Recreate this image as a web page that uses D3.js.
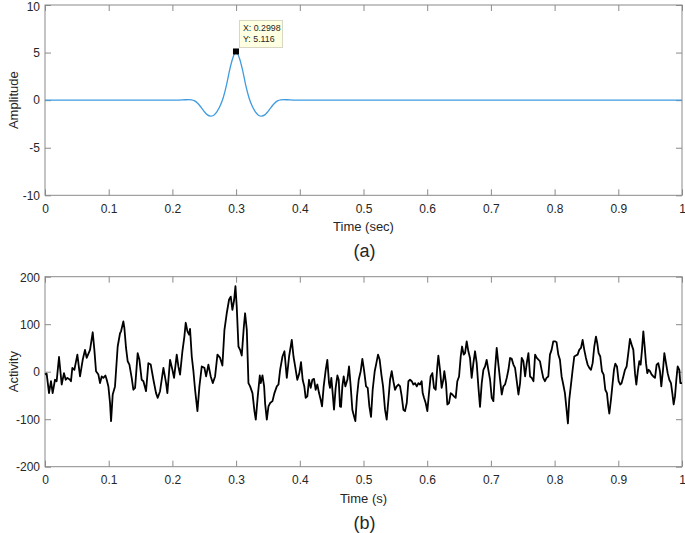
<!DOCTYPE html>
<html>
<head>
<meta charset="utf-8">
<script src="https://cdn.jsdelivr.net/npm/d3@7"></script>
<style>
  html, body { margin: 0; padding: 0; background: #fff; }
  svg { display: block; }
  text { font-family: "Liberation Sans", Arial, Helvetica, sans-serif; fill: #262626; }
</style>
</head>
<body>
<svg id="chart" width="685" height="533"></svg>
<script>
// ---------- DATA ----------
const xTicks = [0, 0.1, 0.2, 0.3, 0.4, 0.5, 0.6, 0.7, 0.8, 0.9, 1];
const xTickLabels = ["0", "0.1", "0.2", "0.3", "0.4", "0.5", "0.6", "0.7", "0.8", "0.9", "1"];
const ampTicks = [-10, -5, 0, 5, 10];
const actTicks = [-200, -100, 0, 100, 200];

// (a) wavelet
const waveTime = [0, 0.2, 0.21, 0.22, 0.225, 0.23, 0.235, 0.24, 0.245, 0.25, 0.255, 0.26, 0.265, 0.27, 0.275, 0.28, 0.285, 0.29, 0.295, 0.2998,
  0.305, 0.31, 0.315, 0.32, 0.325, 0.33, 0.335, 0.34, 0.345, 0.35, 0.355, 0.36, 0.365, 0.37, 0.375, 0.38, 0.39, 0.4, 1];
const waveAmp = [0, 0, 0.01, 0.04, 0.05, 0.03, -0.08, -0.35, -0.75, -1.2, -1.55, -1.68, -1.58, -1.2, -0.6, 0.3, 1.6, 3.2, 4.45, 5.116,
  4.45, 3.2, 1.6, 0.3, -0.6, -1.2, -1.58, -1.68, -1.55, -1.2, -0.75, -0.35, -0.08, 0.03, 0.05, 0.04, 0.01, 0, 0];
const tipX = 0.2998, tipY = 5.116;
const tipLabels = ["X: 0.2998", "Y: 5.116"];

// (b) activity
const actTime = [
  0.000,0.0026,0.0063,0.0094,0.0120,0.0157,0.0183,0.0220,0.0262,0.0298,0.0325,0.0351,0.0393,0.0408,0.0429,0.0461,0.0508,0.0550,0.0592,0.0628,0.0654,0.0707,0.0749,0.0775,0.0801,0.0838,0.0864,0.0890,0.0916,0.0948,0.0969,0.0995,0.1021,0.1037,0.1063,0.1099,0.1141,0.1178,0.1194,0.1230,0.1246,0.1272,0.1298,0.1325,0.1361,0.1387,0.1414,0.1455,0.1482,0.1518,0.1545,0.1586,0.1623,0.1660,0.1702,0.1743,0.1770,0.1806,0.1859,0.1901,0.1921,0.1963,
  0.2000,0.2026,0.2068,0.2094,0.2120,0.2157,0.2188,0.2209,0.2236,0.2262,0.2277,0.2304,0.2330,0.2356,0.2393,0.2424,0.2461,0.2503,0.2529,0.2565,0.2602,0.2634,0.2670,0.2707,0.2749,0.2785,0.2817,0.2853,0.2890,0.2916,0.2942,0.2969,0.2990,0.3010,0.3037,0.3063,0.3089,0.3120,0.3141,0.3168,0.3194,0.3220,0.3257,0.3288,0.3309,0.3340,0.3372,0.3387,0.3414,0.3440,0.3455,0.3482,0.3508,0.3534,0.3571,0.3602,0.3639,0.3665,0.3691,0.3728,0.3759,0.3796,0.3832,0.3874,0.3901,0.3927,
  0.3961,0.3993,0.4019,0.4045,0.4071,0.4092,0.4118,0.4145,0.4171,0.4197,0.4223,0.4249,0.4275,0.4302,0.4328,0.4349,0.4375,0.4407,0.4432,0.4459,0.4474,0.4495,0.4516,0.4537,0.4563,0.4590,0.4611,0.4631,0.4647,0.4668,0.4689,0.4715,0.4747,0.4773,0.4799,0.4825,0.4851,0.4872,0.4898,0.4925,0.4956,0.4982,0.5008,0.5040,0.5066,0.5092,0.5118,0.5144,0.5176,0.5202,0.5228,0.5254,0.5281,0.5307,0.5338,0.5364,0.5391,0.5417,0.5443,0.5469,0.5495,0.5521,0.5548,0.5574,0.5600,0.5626,0.5652,0.5679,0.5705,0.5731,0.5757,0.5783,0.5809,0.5836,0.5862,0.5888,
  0.5913,0.5929,0.5950,0.5976,0.6002,0.6028,0.6054,0.6081,0.6107,0.6133,0.6159,0.6175,0.6201,0.6227,0.6253,0.6269,0.6295,0.6316,0.6342,0.6369,0.6395,0.6421,0.6447,0.6473,0.6500,0.6526,0.6547,0.6573,0.6594,0.6620,0.6646,0.6672,0.6698,0.6725,0.6751,0.6777,0.6803,0.6829,0.6856,0.6882,0.6908,0.6934,0.6960,0.6987,0.7013,0.7039,0.7065,0.7091,0.7118,0.7144,0.7170,0.7196,0.7222,0.7249,0.7275,0.7301,0.7327,0.7353,0.7379,0.7406,0.7432,0.7458,0.7484,0.7510,0.7537,0.7563,0.7589,0.7615,0.7641,0.7668,0.7694,0.7720,
  0.7770,0.7796,0.7822,0.7848,0.7874,0.7901,0.7927,0.7953,0.7979,0.8005,0.8031,0.8058,0.8084,0.8110,0.8136,0.8162,0.8188,0.8209,0.8230,0.8257,0.8283,0.8309,0.8335,0.8361,0.8387,0.8414,0.8440,0.8466,0.8492,0.8518,0.8545,0.8571,0.8597,0.8623,0.8649,0.8670,0.8691,0.8717,0.8743,0.8770,0.8796,0.8822,0.8843,0.8859,0.8885,0.8911,0.8932,0.8953,0.8979,0.9005,0.9031,0.9052,0.9079,0.9105,0.9131,0.9157,0.9183,0.9209,0.9236,0.9262,0.9283,0.9309,0.9330,0.9351,0.9372,0.9393,0.9414,0.9435,0.9455,0.9476,0.9497,0.9524,0.9550,0.9576,0.9602,0.9628,0.9654,0.9675,0.9702,0.9723,0.9749,0.9775,0.9801,0.9827,0.9848,0.9869,0.9890,0.9911,0.9932,0.9958,0.9974,1.0
];
const actValue = [
  -6,-4,-45,-20,-45,-17,-20,31,-27,-3,-17,-13,-17,-20,8,4,36,-10,25,46,29,46,83,46,1,-6,-24,-10,-13,-8,-17,-31,-66,-104,-48,-31,53,81,85,106,92,50,22,15,-13,-38,-34,39,25,-17,-20,-41,18,15,-17,-45,-55,-41,8,-24,-45,25,
  4,-13,36,11,-6,43,74,103,85,78,90,32,1,-38,-83,-31,11,8,-10,15,-10,-24,-10,36,29,13,88,123,152,158,130,151,180,137,53,46,34,92,123,88,-24,-31,-45,-83,-101,-52,-8,-24,-8,-31,-66,-101,-73,-66,-62,-45,-31,-27,4,32,43,-13,32,67,32,11,
  -17,-3,20,-17,-31,-55,-52,-17,-34,-17,-15,-38,-27,-45,-59,-73,-31,4,25,-24,-34,-13,-45,-80,-34,-8,-17,-73,-74,-31,-10,-31,-17,11,-31,-80,-94,-104,-52,-17,1,27,4,-31,-34,-73,-95,-38,1,18,36,25,-6,-31,-80,-101,-59,-17,1,-20,-38,-31,-27,-31,-52,-80,-83,-66,-20,-17,-20,-27,-24,-31,-24,-27,
  -20,-45,-55,-66,-83,-45,-10,-3,-34,-38,11,34,4,-34,-17,1,-24,-69,-66,-45,-48,-52,-55,-20,-10,32,53,36,39,64,43,29,-13,18,43,18,-31,-74,-24,4,11,25,4,-17,-55,-62,4,50,15,-17,-48,-31,-27,-13,4,29,27,15,8,-20,-48,-24,29,22,-10,18,39,-10,-13,-20,36,29,
  22,4,-13,-20,-13,-10,36,46,64,64,62,36,25,-10,-27,-45,-80,-109,-59,-27,4,32,34,36,46,50,67,46,29,15,8,4,18,53,74,60,39,32,1,-6,-38,-45,-73,-88,-59,-24,4,17,11,-20,-27,-24,-10,4,11,39,69,57,46,-3,-27,4,22,15,46,85,53,18,-3,4,1,-6,-10,-13,15,18,1,-31,4,39,18,-3,-17,-24,-45,-69,-52,-17,11,4,-24,-24
];

// ---------- DRAWING ----------
const svg = d3.select("#chart");
const axisColor = "#8a8a8a";
const left = 45, right = 682;

function panel(opts) {
  const { top, bottom, yDomain, yTicks, xLabel, yLabel, caption } = opts;
  const x = d3.scaleLinear().domain([0, 1]).range([left, right]);
  const y = d3.scaleLinear().domain(yDomain).range([bottom, top]);
  const g = svg.append("g");

  // box
  g.append("rect").attr("x", left).attr("y", top)
    .attr("width", right - left).attr("height", bottom - top)
    .attr("fill", "none").attr("stroke", axisColor).attr("stroke-width", 1);

  const styleAxis = sel => {
    sel.select(".domain").remove();
    sel.selectAll(".tick line").attr("stroke", axisColor);
    sel.selectAll(".tick text").style("font-size", "12px")
      .style("font-family", '"Liberation Sans", Arial, sans-serif').attr("fill", "#262626");
  };

  g.append("g").attr("transform", `translate(0,${bottom})`)
    .call(d3.axisBottom(x).tickValues(xTicks).tickFormat((d, i) => xTickLabels[i])
      .tickSizeInner(-6).tickSizeOuter(0).tickPadding(9))
    .call(styleAxis);
  g.append("g").attr("transform", `translate(0,${top})`)
    .call(d3.axisTop(x).tickValues(xTicks).tickFormat("").tickSizeInner(-6).tickSizeOuter(0))
    .call(styleAxis);
  const yAx = g.append("g").attr("transform", `translate(${left},0)`)
    .call(d3.axisLeft(y).tickValues(yTicks).tickFormat(d3.format("d"))
      .tickSizeInner(-6).tickSizeOuter(0).tickPadding(5))
    .call(styleAxis);
  yAx.selectAll(".tick text").text(function(){return this.textContent.replace("\u2212","-");});
  // keep the topmost label fully inside the picture
  yAx.selectAll(".tick text").filter(d => d === yDomain[1]).attr("dy", "0.42em");
  g.append("g").attr("transform", `translate(${right},0)`)
    .call(d3.axisRight(y).tickValues(yTicks).tickFormat("").tickSizeInner(-6).tickSizeOuter(0))
    .call(styleAxis);

  g.append("text").attr("x", (left + right) / 2).attr("y", bottom + 36)
    .attr("text-anchor", "middle").style("font-size", "13px").text(xLabel);
  g.append("text").attr("transform", `translate(17.5,${(top + bottom) / 2}) rotate(-90)`)
    .attr("text-anchor", "middle").style("font-size", "13px").text(yLabel);
  g.append("text").attr("x", (left + right) / 2 + 1).attr("y", bottom + 62)
    .attr("text-anchor", "middle").style("font-size", "18px").text(caption);

  return { g, x, y };
}

// (a)
const pa = panel({ top: 5, bottom: 195.3, yDomain: [-10, 10], yTicks: ampTicks,
  xLabel: "Time (sec)", yLabel: "Amplitude", caption: "(a)" });
const waveData = d3.range(Math.min(waveTime.length, waveAmp.length)).map(i => [waveTime[i], waveAmp[i]]);
pa.g.append("path").datum(waveData)
  .attr("fill", "none").attr("stroke", "#3f9be0").attr("stroke-width", 1.3)
  .attr("d", d3.line().x(d => pa.x(d[0])).y(d => pa.y(d[1])).curve(d3.curveMonotoneX));

// datatip
const mx = pa.x(tipX), my = pa.y(tipY);
pa.g.append("rect").attr("x", mx - 3).attr("y", my - 3).attr("width", 6).attr("height", 6).attr("fill", "#000");
const tipG = pa.g.append("g");
tipG.append("rect").attr("x", mx + 3.5).attr("y", my - 31).attr("width", 43).attr("height", 27)
  .attr("fill", "#ffffe1").attr("stroke", "#d6d6c2").attr("stroke-width", 1);
tipLabels.forEach((t, i) => {
  tipG.append("text").attr("x", mx + 7).attr("y", my - 20 + i * 10.5)
    .style("font-size", "8.8px").attr("fill", "#333").text(t);
});

// (b)
const pb = panel({ top: 276.7, bottom: 466.7, yDomain: [-200, 200], yTicks: actTicks,
  xLabel: "Time (s)", yLabel: "Activity", caption: "(b)" });
const actData = d3.range(Math.min(actTime.length, actValue.length)).map(i => [actTime[i], actValue[i]]);
pb.g.append("path").datum(actData)
  .attr("fill", "none").attr("stroke", "#000").attr("stroke-width", 1.8).attr("stroke-linejoin", "round")
  .attr("d", d3.line().x(d => pb.x(d[0])).y(d => pb.y(d[1])));
</script>
</body>
</html>
